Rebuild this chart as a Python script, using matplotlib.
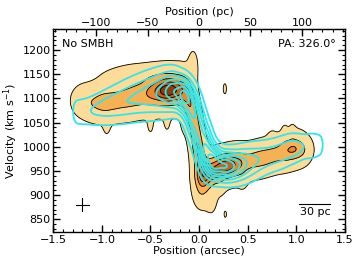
import numpy as np
import matplotlib
matplotlib.use("Agg")
import matplotlib.pyplot as plt
from matplotlib.ticker import MultipleLocator, FixedLocator

# observed emission components: position (arcsec), velocity (km/s), amplitude, widths
obs_pos = [-1.22, -1.10, -0.98, -0.86, -0.74, -0.62, -0.50, -0.40, -0.32, -0.24,
           -0.16, -0.10, -0.06, -0.03, 0.00, 0.03, 0.10, 0.20, 0.30, 0.40,
           0.52, 0.64, 0.76, 0.88, 0.98, 1.08,
           -0.06, -0.60, 0.265, 0.27, 0.13, 0.02,
           -0.95, -0.50, -0.33, -0.15, 0.88, 0.96, 0.75, 0.45, 0.22]
obs_vel = [1095, 1090, 1092, 1095, 1100, 1106, 1112, 1115, 1117, 1118,
           1115, 1095, 1060, 1020, 985, 940, 945, 955, 962, 965,
           970, 976, 982, 990, 996, 994,
           1168, 1150, 1120, 860, 885, 905,
           1040, 1040, 1045, 1045, 1030, 1030, 1020, 930, 920]
obs_amp = [0.26, 0.32, 0.50, 0.44, 0.45, 0.52, 0.62, 0.80, 0.95, 0.85,
           0.58, 0.55, 0.55, 0.55, 0.60, 0.85, 0.75, 0.88, 1.00, 0.65,
           0.45, 0.48, 0.45, 0.52, 0.68, 0.35,
           0.24, 0.20, 0.14, 0.12, 0.14, 0.25,
           0.10, 0.10, 0.10, 0.10, 0.10, 0.10, 0.08, 0.10, 0.10]
obs_dx = [0.07, 0.07, 0.07, 0.07, 0.07, 0.07, 0.06, 0.06, 0.06, 0.06,
          0.05, 0.04, 0.04, 0.04, 0.04, 0.05, 0.06, 0.06, 0.06, 0.06,
          0.07, 0.07, 0.07, 0.06, 0.06, 0.06,
          0.03, 0.22, 0.02, 0.02, 0.04, 0.05,
          0.025, 0.025, 0.025, 0.025, 0.02, 0.02, 0.03, 0.03, 0.03]
obs_dv = [18, 18, 18, 18, 19, 19, 18, 17, 16, 17,
          20, 21, 21, 21, 21, 18, 16, 15, 14, 16,
          16, 16, 16, 16, 15, 16,
          18, 12, 12, 10, 18, 18,
          12, 12, 12, 12, 10, 10, 10, 12, 12]
obs_wing = 0.4   # broad faint wing relative to each component

# model (cyan) components
mod_pos = [-1.27, -1.22, -1.15, -1.05, -0.95, -0.85, -0.75, -0.65, -0.55, -0.45,
           -0.35, -0.25, -0.15, -0.07, 0.00, 0.07, 0.15, 0.25, 0.35, 0.45,
           0.55, 0.65, 0.75, 0.85, 0.95, 1.05, 1.15, 1.20, 1.25]
mod_vel = [1072, 1072, 1073, 1077, 1082, 1088, 1094, 1100, 1105, 1109,
           1113, 1115, 1105, 1075, 1035, 992, 968, 960, 960, 964,
           970, 976, 982, 988, 996, 1000, 1002, 1003, 1004]
mod_amp = [0.11, 0.11, 0.17, 0.20, 0.24, 0.26, 0.28, 0.30, 0.33, 0.38,
           0.48, 0.72, 0.95, 0.80, 0.62, 0.80, 0.95, 0.88, 0.65, 0.45,
           0.32, 0.26, 0.24, 0.24, 0.27, 0.20, 0.16, 0.10, 0.10]
mod_dv = [20, 20, 21, 22, 24, 26, 28, 29, 30, 30,
          29, 26, 24, 30, 32, 30, 22, 20, 21, 23,
          24, 23, 22, 22, 20, 19, 19, 19, 19]
mod_dx = [0.03, 0.04, 0.06, 0.06, 0.06, 0.06, 0.06, 0.06, 0.06, 0.06,
          0.06, 0.06, 0.05, 0.05, 0.05, 0.05, 0.05, 0.06, 0.06, 0.06,
          0.06, 0.06, 0.06, 0.06, 0.06, 0.06, 0.05, 0.04, 0.03]

obs_levels = [0.06, 0.3, 0.52, 0.7, 0.86, 10]
obs_colors = ["#fddb98", "#f6b155", "#e8872f", "#c8631d", "#8e3b0c"]
mod_levels = [0.08, 0.2, 0.32, 0.45, 0.58, 0.72, 0.86]

pc_per_arcsec = 94.6

x = np.linspace(-1.5, 1.5, 451)
v = np.linspace(820, 1245, 320)
X, V = np.meshgrid(x, v)

obs = np.zeros_like(X)
for p, vv, a, dx, dv in zip(obs_pos, obs_vel, obs_amp, obs_dx, obs_dv):
    obs += a * np.exp(-0.5 * ((X - p) / dx) ** 2 - 0.5 * ((V - vv) / dv) ** 2)
    obs += obs_wing * a * np.exp(-0.5 * ((X - p) / (1.3 * dx)) ** 2
                                 - 0.5 * ((V - vv) / (1.9 * dv)) ** 2)
obs /= obs.max()

mod = np.zeros_like(X)
for p, vv, a, dx, dv in zip(mod_pos, mod_vel, mod_amp, mod_dx, mod_dv):
    mod += a * np.exp(-0.5 * ((X - p) / dx) ** 2 - 0.5 * ((V - vv) / dv) ** 2)
mod /= mod.max()

fig = plt.figure(figsize=(3.6, 2.67), dpi=100)
ax = fig.add_axes([0.148, 0.132, 0.81, 0.758])

ax.contourf(X, V, obs, levels=obs_levels, colors=obs_colors)
ax.contour(X, V, obs, levels=obs_levels[:-1], colors="k", linewidths=0.6)
ax.contour(X, V, mod, levels=mod_levels, colors="#2ee6ee", linewidths=1.3)

ax.set_xlim(-1.5, 1.5)
ax.set_ylim(824, 1243)
ax.set_xlabel("Position (arcsec)", fontsize=8, labelpad=1)
ax.set_ylabel("Velocity (km s$^{-1}$)", fontsize=8, labelpad=2)
ax.xaxis.set_major_locator(MultipleLocator(0.5))
ax.xaxis.set_minor_locator(MultipleLocator(0.1))
ax.yaxis.set_major_locator(MultipleLocator(50))
ax.yaxis.set_minor_locator(MultipleLocator(10))
ax.tick_params(which="both", direction="in", right=True, labelsize=8, pad=2)
ax.tick_params(which="major", length=5, width=1)
ax.tick_params(which="minor", length=2.5, width=0.8)
ax.tick_params(axis="x", which="both", top=False)
for s in ax.spines.values():
    s.set_linewidth(1.0)

sec = ax.secondary_xaxis("top", functions=(lambda a: a * pc_per_arcsec,
                                            lambda a: a / pc_per_arcsec))
sec.set_xlabel("Position (pc)", fontsize=8, labelpad=2)
sec.xaxis.set_major_locator(FixedLocator([-100, -50, 0, 50, 100]))
sec.xaxis.set_minor_locator(FixedLocator(np.arange(-140, 141, 10)))
sec.tick_params(which="both", direction="in", labelsize=8, pad=1)
sec.tick_params(which="major", length=5, width=1)
sec.tick_params(which="minor", length=2.5, width=0.8)

ax.text(0.03, 0.95, "No SMBH", transform=ax.transAxes, fontsize=8, va="top")
ax.text(0.97, 0.95, "PA: 326.0°", transform=ax.transAxes, fontsize=8,
        va="top", ha="right")

# error cross
ax.plot([-1.27, -1.13], [880, 880], color="k", lw=0.8)
ax.plot([-1.2, -1.2], [866, 894], color="k", lw=0.8)

# scale bar 30 pc
bar = 30 / pc_per_arcsec
ax.plot([1.35 - bar, 1.35], [882, 882], color="k", lw=0.8)
ax.text(1.35 - bar / 2, 876, "30 pc", fontsize=8, ha="center", va="top")

fig.savefig("out.png", dpi=100)
